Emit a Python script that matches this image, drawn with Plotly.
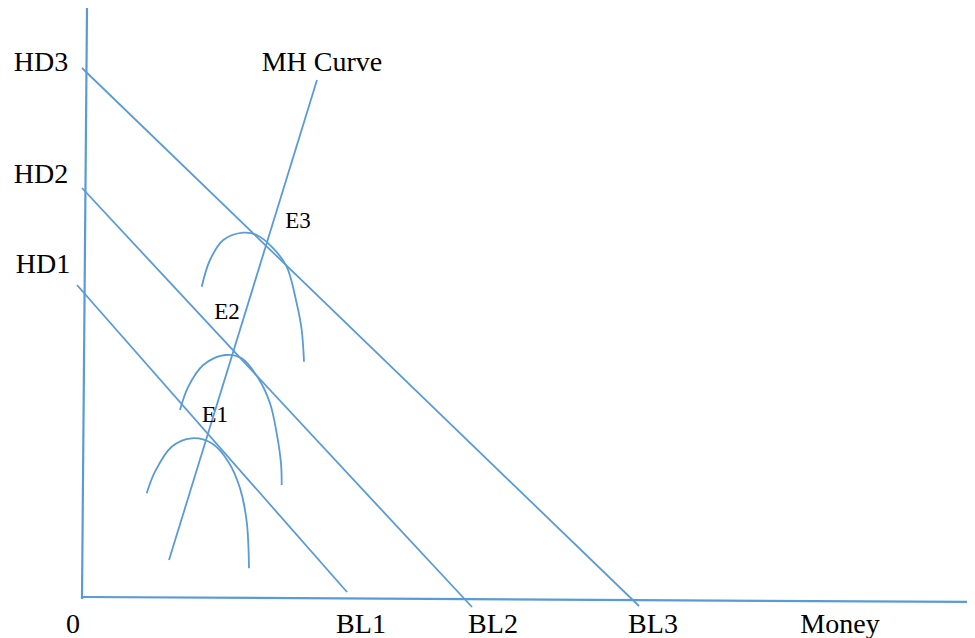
import plotly.graph_objects as go

# Diagram coordinates (in canvas units; y grows downward)
axis_y_x = [87, 82]
axis_y_y = [8, 599]
axis_x_x = [82, 975]
axis_x_y = [597, 602]

hd_names = ["HD1", "HD2", "HD3"]
hd_x = [[77, 347], [82, 472], [82, 639]]
hd_y = [[285, 592], [188, 607], [68, 606]]

mh_x = [169, 317]
mh_y = [560, 80]

arc1_x = [146.7, 155, 171.7, 191.7, 211.7, 228.3, 240, 246.7, 249]
arc1_y = [493.3, 471.7, 446.7, 438.3, 443.3, 461.7, 488.3, 521.7, 568.3]
arc2_x = [180, 188.3, 203.3, 225, 241.7, 258.3, 270, 276.7, 281, 281.7]
arc2_y = [410, 386.7, 365, 355, 358.3, 378.3, 403.3, 433.3, 463.3, 485]
arc3_x = [201.7, 210, 223.3, 243.3, 256.7, 273.3, 286.7, 296.7, 301.7, 304]
arc3_y = [286.7, 260, 240, 232.7, 235, 248.3, 266.7, 303.3, 330, 361.7]

big_labels = ["HD3", "HD2", "HD1", "MH Curve", "0", "BL1", "BL2", "BL3", "Money"]
big_x = [41, 41, 43, 322, 73, 361, 493, 653, 840]
big_y = [64, 176, 266, 64, 626, 626, 626, 626, 626]

small_labels = ["E3", "E2", "E1"]
small_x = [298, 227, 215]
small_y = [222, 313, 416]
small_sizes = [23, 23, 24]

COLOR = "#5B9BD5"
PAGE_OFFSET = 8  # default body margin of the page
W, H = 975, 638

fig = go.Figure()

def add_line(xs, ys, spline=False, width=1.8):
    fig.add_trace(go.Scatter(
        x=xs, y=ys, mode="lines",
        line=dict(color=COLOR, width=width, shape="spline" if spline else "linear"),
        hoverinfo="skip", showlegend=False))

add_line(axis_y_x, axis_y_y, width=2.2)
add_line(axis_x_x, axis_x_y, width=2.2)
for xs, ys in zip(hd_x, hd_y):
    add_line(xs, ys)
add_line(mh_x, mh_y)
for xs, ys in [(arc1_x, arc1_y), (arc2_x, arc2_y), (arc3_x, arc3_y)]:
    add_line(xs, ys, spline=True)

fig.add_trace(go.Scatter(
    x=big_x, y=big_y, mode="text", text=big_labels,
    textfont=dict(family="Liberation Serif", size=28, color="black"),
    textposition="middle center", hoverinfo="skip", showlegend=False))
for t, x, y, s in zip(small_labels, small_x, small_y, small_sizes):
    fig.add_trace(go.Scatter(
        x=[x], y=[y], mode="text", text=[t],
        textfont=dict(family="Liberation Serif", size=s, color="black"),
        textposition="middle center", hoverinfo="skip", showlegend=False))

fig.update_layout(
    width=W - PAGE_OFFSET, height=H - PAGE_OFFSET,
    margin=dict(l=0, r=0, t=0, b=0),
    paper_bgcolor="white", plot_bgcolor="white",
    xaxis=dict(range=[PAGE_OFFSET, W], visible=False, fixedrange=True),
    yaxis=dict(range=[H, PAGE_OFFSET], visible=False, fixedrange=True),
)
fig.write_html("out.html")
